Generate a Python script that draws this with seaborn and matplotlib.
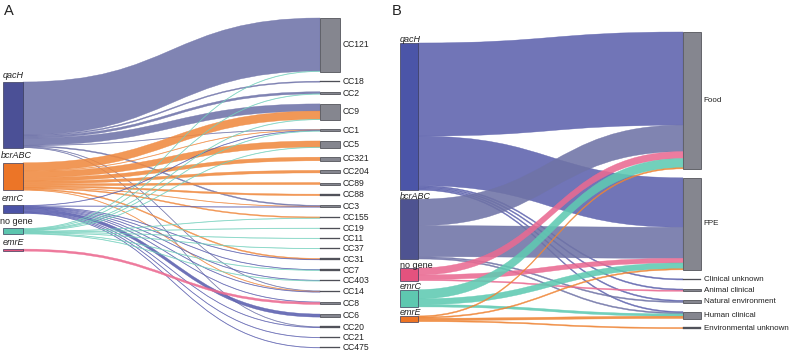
import matplotlib
matplotlib.use("Agg")
import matplotlib.pyplot as plt
from matplotlib.path import Path
from matplotlib.patches import PathPatch, Rectangle
import seaborn as sns

# ---------------- data: panel A (gene -> clonal complex) ----------------
A_sources = ["qacH", "bcrABC", "emrC", "no gene", "emrE"]
A_targets = ["CC121", "CC18", "CC2", "CC9", "CC1", "CC5", "CC321", "CC204", "CC89",
             "CC88", "CC3", "CC155", "CC19", "CC11", "CC37", "CC31", "CC7", "CC403",
             "CC14", "CC8", "CC6", "CC20", "CC21", "CC475"]
A_qacH   = [104, 2, 4, 14, 1, 0, 0, 0, 0, 0, 2, 0, 0, 0, 0, 0, 0, 0, 1, 0, 0, 1, 0, 0]
A_bcrABC = [0, 0, 0, 16, 1, 12, 7, 5, 4, 3, 1, 2, 0, 0, 0, 2, 0, 0, 1, 0, 0, 0, 0, 0]
A_emrC   = [0, 0, 0, 0, 1, 0, 0, 0, 0, 0, 1, 0, 0, 0, 0, 1, 1, 1, 1, 1, 6, 1, 1, 1]
A_nogene = [1, 0, 1, 1, 1, 1, 0, 0, 0, 0, 0, 1, 1, 1, 1, 0, 1, 1, 0, 0, 0, 0, 0, 0]
A_emrE   = [0, 0, 0, 0, 0, 0, 0, 0, 0, 0, 0, 0, 0, 0, 0, 0, 0, 0, 0, 4, 0, 0, 0, 0]

# ---------------- data: panel B (gene -> source) ----------------
B_sources = ["qacH", "bcrABC", "no gene", "emrC", "emrE"]
B_targets = ["Food", "FPE", "Clinical unknown", "Animal clinical",
             "Natural environment", "Human clinical", "Environmental unknown"]
B_qacH   = [81, 43, 1, 1, 1, 1, 0]
B_bcrABC = [23, 27, 0, 0, 1, 1, 0]
B_nogene = [6, 4, 0, 1, 0, 0, 0]
B_emrC   = [8, 5, 0, 0, 0, 2, 0]
B_emrE   = [1, 1, 0, 0, 0, 2, 1]

# ---------------- styles ----------------
A_node_col = ["#4b5096", "#ec7527", "#4b52a6", "#5cc5ae", "#e0537c"]
A_link_col = ["#6f73a9", "#f08a40", "#5a5eae", "#72d0bc", "#ec6990"]
B_node_col = ["#4b55a8", "#4e5391", "#e4527e", "#5ec8b0", "#ee7424"]
B_link_col = ["#5d62ad", "#6f73a6", "#ea6a92", "#5fcab2", "#ef8434"]
TGT_FILL = "#85868f"
TGT_EDGE = "#3d3e46"

sns.set_theme(style="white")
plt.rcParams["font.family"] = ["Liberation Sans", "DejaVu Sans"]

fig = plt.figure(figsize=(7.93, 3.51), dpi=100)
ax = fig.add_axes([0, 0, 1, 1])
ax.set_xlim(0, 793)
ax.set_ylim(351, 0)
ax.axis("off")

src_labels = []


def band(x0, x1, ys, yt, h_s, h_t):
    xm = (x0 + x1) / 2
    verts = [(x0, ys), (xm, ys), (xm, yt), (x1, yt),
             (x1, yt + h_t),
             (xm, yt + h_t), (xm, ys + h_s), (x0, ys + h_s),
             (x0, ys)]
    codes = [Path.MOVETO, Path.CURVE4, Path.CURVE4, Path.CURVE4,
             Path.LINETO,
             Path.CURVE4, Path.CURVE4, Path.CURVE4,
             Path.CLOSEPOLY]
    return Path(verts, codes)


def sankey(sources, targets, flows, k, sx, tx, nw, src_top, src_pad, tgt_top, tgt_pad,
           node_cols, link_cols, label_mode, tgt_fs):
    ns, nt = len(sources), len(targets)
    s_tot = [sum(r) for r in flows]
    t_tot = [sum(flows[i][j] for i in range(ns)) for j in range(nt)]
    s_y, y = [], src_top
    for v in s_tot:
        s_y.append(y)
        y += v * k + src_pad
    t_y, y = [], tgt_top
    for v in t_tot:
        t_y.append(y)
        y += v * k + tgt_pad
    s_off = list(s_y)
    t_off = list(t_y)
    links = []
    for i in range(ns):
        for j in range(nt):
            v = flows[i][j]
            if v <= 0:
                continue
            links.append((i, j, v, s_off[i]))
            s_off[i] += v * k
    tpos = {}
    for j in range(nt):
        for i in range(ns):
            v = flows[i][j]
            if v > 0:
                tpos[(i, j)] = t_off[j]
                t_off[j] += v * k
    for i, j, v, ys in links:
        yt = tpos[(i, j)]
        h = v * k
        thin = h < 1.0
        p = band(sx + nw, tx, ys, yt, h, h)
        ax.add_patch(PathPatch(p, facecolor=link_cols[i], edgecolor=link_cols[i],
                               lw=0.3, alpha=0.75 if thin else 0.88, zorder=2))
    for i, name in enumerate(sources):
        h = s_tot[i] * k
        ax.add_patch(Rectangle((sx, s_y[i]), nw, h, facecolor=node_cols[i],
                               edgecolor="#3a3c5a", lw=0.5, zorder=3))
        style = "normal" if name == "no gene" else "italic"
        if label_mode == "center":
            t = ax.text(sx + nw / 2, s_y[i] - 2.5, name, ha="center", va="bottom",
                        fontsize=6.5, style=style, color="#222222", zorder=4)
            src_labels.append(t)
        else:
            ax.text(sx, s_y[i] + 1.5, name, ha="left", va="bottom",
                    fontsize=6.5, style=style, color="#222222", zorder=4)
    for j, name in enumerate(targets):
        h = t_tot[j] * k
        hd = max(h, 1.5)
        yc = t_y[j] + h / 2
        big = h > 2
        ax.add_patch(Rectangle((tx, yc - hd / 2), nw, hd,
                               facecolor=TGT_FILL if big else "#55565e",
                               edgecolor=TGT_EDGE, lw=0.5 if big else 0.2, zorder=3))
        ax.text(tx + nw + 2.5, yc, name, ha="left", va="center", fontsize=tgt_fs,
                color="#222222", zorder=4)


A_flows = [A_qacH, A_bcrABC, A_emrC, A_nogene, A_emrE]
B_flows = [B_qacH, B_bcrABC, B_nogene, B_emrC, B_emrE]

sankey(A_sources, A_targets, A_flows, k=0.51, sx=3, tx=320, nw=20,
       src_top=82, src_pad=15, tgt_top=18, tgt_pad=9.6,
       node_cols=A_node_col, link_cols=A_link_col, label_mode="center", tgt_fs=6.2)
sankey(B_sources, B_targets, B_flows, k=1.15, sx=400, tx=683, nw=18,
       src_top=43, src_pad=9, tgt_top=32, tgt_pad=9,
       node_cols=B_node_col, link_cols=B_link_col, label_mode="left", tgt_fs=5.8)

ax.text(4, 4, "A", fontsize=10.5, ha="left", va="top", color="#222222")
ax.text(392, 4, "B", fontsize=10.5, ha="left", va="top", color="#222222")

# keep centred source labels inside the canvas
fig.canvas.draw()
r = fig.canvas.get_renderer()
inv = ax.transData.inverted()
for t in src_labels:
    bb = t.get_window_extent(renderer=r)
    x0 = inv.transform((bb.x0, bb.y0))[0]
    if x0 < 0.5:
        t.set_position((t.get_position()[0] + (0.5 - x0), t.get_position()[1]))

fig.savefig("out.png", dpi=100)
